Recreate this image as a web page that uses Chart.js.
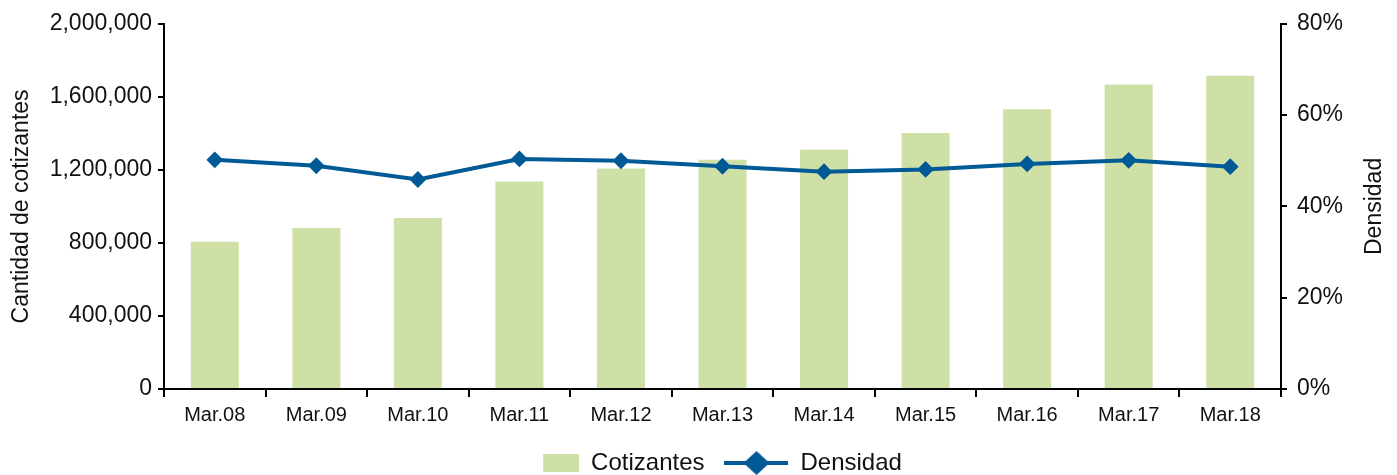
<!DOCTYPE html>
<html>
<head>
<meta charset="utf-8">
<script src="https://cdn.jsdelivr.net/npm/chart.js@4/dist/chart.umd.min.js"></script>
<style>
  html, body { margin: 0; padding: 0; background: #fff; }
  .chart-container { position: relative; width: 1397px; height: 475px; }
</style>
</head>
<body>
<div class="chart-container"><canvas id="chart"></canvas></div>
<script>
const categories = ['Mar.08', 'Mar.09', 'Mar.10', 'Mar.11', 'Mar.12', 'Mar.13', 'Mar.14', 'Mar.15', 'Mar.16', 'Mar.17', 'Mar.18'];
const cotizantes = [806000, 882000, 936000, 1137000, 1207000, 1256000, 1310000, 1402000, 1532000, 1667000, 1716000];
const densidad = [50.2, 48.9, 45.9, 50.4, 50.0, 48.8, 47.6, 48.1, 49.3, 50.1, 48.7];
const leftTicks = [0, 400000, 800000, 1200000, 1600000, 2000000];
const rightTicks = [0, 20, 40, 60, 80];

const barColor = '#cfe0a7';
const lineColor = '#005a96';
const fontFamily = '"Liberation Sans", Arial, sans-serif';

// little pictures for the legend entries
const barSwatch = document.createElement('canvas');
barSwatch.width = 64; barSwatch.height = 18;
let c = barSwatch.getContext('2d');
c.fillStyle = barColor;
c.fillRect(28, 0, 36, 18);

const lineSwatch = document.createElement('canvas');
lineSwatch.width = 64; lineSwatch.height = 26;
c = lineSwatch.getContext('2d');
c.fillStyle = lineColor;
c.fillRect(0, 11, 64, 4);
c.beginPath();
c.moveTo(32, 1); c.lineTo(45, 13); c.lineTo(32, 25); c.lineTo(19, 13);
c.closePath();
c.fill();

// right axis title reads bottom to top like the left one
const rightTitle = {
  id: 'rightTitle',
  afterLayout(chart) {
    // bar swatch leaves empty room on its left, pull the legend back a bit
    if (chart.legend) {
      chart.legend.left -= 14;
      chart.legend.right -= 14;
    }
  },
  afterDraw(chart) {
    const ctx = chart.ctx;
    const area = chart.chartArea;
    ctx.save();
    ctx.translate(chart.width - 22, (area.top + area.bottom) / 2);
    ctx.rotate(-Math.PI / 2);
    ctx.font = '23px ' + fontFamily;
    ctx.fillStyle = '#111';
    ctx.textAlign = 'center';
    ctx.textBaseline = 'middle';
    ctx.fillText('Densidad', 0, 0);
    ctx.restore();
  }
};

new Chart(document.getElementById('chart'), {
  type: 'bar',
  data: {
    labels: categories,
    datasets: [
      {
        type: 'bar',
        label: 'Cotizantes',
        data: cotizantes,
        backgroundColor: barColor,
        yAxisID: 'y',
        order: 1,
        categoryPercentage: 1,
        barPercentage: 0.473,
      },
      {
        type: 'line',
        label: 'Densidad',
        data: densidad,
        borderColor: lineColor,
        backgroundColor: lineColor,
        borderWidth: 4,
        tension: 0,
        pointStyle: 'rectRot',
        pointRadius: 7,
        pointBorderWidth: 2,
        pointBackgroundColor: lineColor,
        pointBorderColor: lineColor,
        yAxisID: 'y1',
        order: 0,
      },
    ],
  },
  options: {
    responsive: true,
    maintainAspectRatio: false,
    animation: false,
    layout: { padding: { top: 19.5, left: 0, right: 0, bottom: -10 } },
    plugins: {
      tooltip: { enabled: false },
      legend: {
        position: 'bottom',
        fullSize: false,
        labels: {
          usePointStyle: true,
          pointStyleWidth: 64,
          padding: 20,
          color: '#111',
          font: { family: fontFamily, size: 24 },
          generateLabels: (chart) => {
            const items = Chart.defaults.plugins.legend.labels.generateLabels(chart);
            items.sort((a, b) => a.datasetIndex - b.datasetIndex);
            items.forEach(item => {
              item.pointStyle = item.datasetIndex === 0 ? barSwatch : lineSwatch;
            });
            return items;
          },
        },
      },
    },
    scales: {
      x: {
        afterFit: (scale) => { scale.height = 42; },
        grid: { drawOnChartArea: false, drawTicks: true, tickLength: 8, color: '#000', lineWidth: 2 },
        border: { display: true, color: '#000', width: 2 },
        ticks: { color: '#111', font: { family: fontFamily, size: 20 }, padding: 6, maxRotation: 0 },
      },
      y: {
        position: 'left',
        min: 0,
        max: 2000000,
        afterFit: (scale) => { scale.width = 164; },
        afterBuildTicks: (scale) => { scale.ticks = leftTicks.map(v => ({ value: v })); },
        grid: { drawOnChartArea: false, drawTicks: true, tickLength: 6, color: '#000', lineWidth: 2 },
        border: { display: true, color: '#000', width: 2 },
        ticks: {
          color: '#111',
          padding: 6,
          font: { family: fontFamily, size: 23 },
          callback: (v) => v.toLocaleString('en-US'),
        },
        title: {
          display: true,
          text: 'Cantidad de cotizantes',
          color: '#111',
          padding: { top: 8, bottom: 0 },
          font: { family: fontFamily, size: 23 },
        },
      },
      y1: {
        position: 'right',
        min: 0,
        max: 80,
        afterFit: (scale) => { scale.width = 116; },
        afterBuildTicks: (scale) => { scale.ticks = rightTicks.map(v => ({ value: v })); },
        grid: { drawOnChartArea: false, drawTicks: true, tickLength: 6, color: '#000', lineWidth: 2 },
        border: { display: true, color: '#000', width: 2 },
        ticks: {
          color: '#111',
          padding: 10,
          font: { family: fontFamily, size: 23 },
          callback: (v) => v + '%',
        },
      },
    },
  },
  plugins: [rightTitle],
});
</script>
</body>
</html>
